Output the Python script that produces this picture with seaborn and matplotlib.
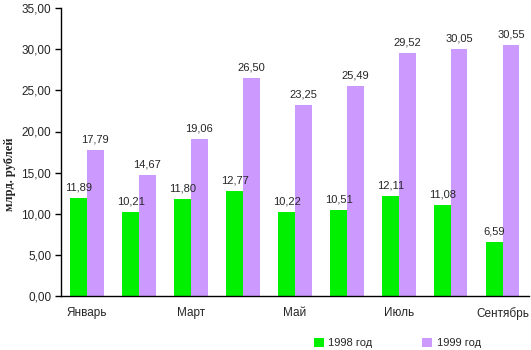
import matplotlib
matplotlib.use("Agg")
import matplotlib.pyplot as plt
import seaborn as sns
import pandas as pd
from matplotlib.patches import Patch

months = ["Январь", "Февраль", "Март", "Апрель", "Май", "Июнь", "Июль", "Август", "Сентябрь"]
tick_labels = ["Январь", "", "Март", "", "Май", "", "Июль", "", "Сентябрь"]
values_1998 = [11.89, 10.21, 11.80, 12.77, 10.22, 10.51, 12.11, 11.08, 6.59]
values_1999 = [17.79, 14.67, 19.06, 26.50, 23.25, 25.49, 29.52, 30.05, 30.55]
series = ["1998 год", "1999 год"]
colors = ["#00F000", "#CC99FF"]

df = pd.DataFrame({
    "month": months * 2,
    "value": values_1998 + values_1999,
    "series": [series[0]] * len(months) + [series[1]] * len(months),
})

sns.set_style("white")
plt.rcParams["font.family"] = ["Liberation Sans", "DejaVu Sans"]

fig = plt.figure(figsize=(5.31, 3.5), dpi=100)
ax = fig.add_axes([0.1149, 0.154, 0.881, 0.823])

sns.barplot(data=df, x="month", y="value", hue="series", order=months,
            hue_order=series, palette=colors, width=0.64, gap=0,
            saturation=1, ax=ax, legend=False, errorbar=None, linewidth=0)

for cont in ax.containers:
    ax.bar_label(cont, labels=[f"{v:.2f}".replace(".", ",") for v in cont.datavalues],
                 padding=4, fontsize=8)

ax.set_ylim(0, 35)
ax.set_yticks(range(0, 36, 5))
ax.set_yticklabels([f"{v:.2f}".replace(".", ",") for v in range(0, 36, 5)], fontsize=8.5)
ax.set_xlim(-0.5, 8.5)
ax.set_xticks(range(len(months)))
ax.set_xticklabels(tick_labels, fontsize=8.5)
ax.set_xticks([i - 0.5 for i in range(len(months) + 1)], minor=True)
ax.tick_params(axis="x", which="major", length=0, pad=8)
ax.tick_params(axis="x", which="minor", length=4, width=1, direction="out", color="black")
ax.tick_params(axis="y", length=4, width=1, direction="out", color="black", left=True, pad=3)
ax.set_xlabel("")
ax.set_ylabel("млрд. рублей", fontsize=9, fontweight="bold",
              family=["Liberation Serif", "DejaVu Serif"])
ax.yaxis.set_label_coords(-0.097, 0.424)

for s in ["top", "right"]:
    ax.spines[s].set_visible(False)
for s in ["left", "bottom"]:
    ax.spines[s].set_color("black")
    ax.spines[s].set_linewidth(1)

handles = [Patch(facecolor=c, edgecolor="none") for c in colors]
fig.legend(handles, series, loc="center", bbox_to_anchor=(0.748, 0.02), ncol=2,
           frameon=False, fontsize=8, handlelength=0.9, handleheight=0.9,
           columnspacing=4.5, handletextpad=0.4)

fig.savefig("out.png", dpi=100)
